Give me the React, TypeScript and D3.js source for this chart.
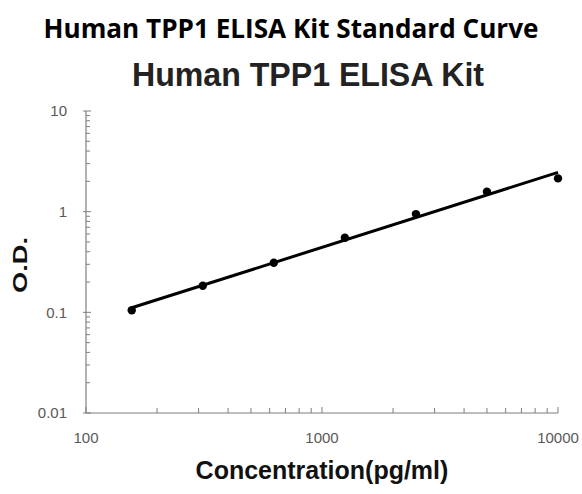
import React from "react";
import * as d3 from "d3";

// standard curve readings
const concentrations = [156.25, 312.5, 625, 1250, 2500, 5000, 10000];
const odValues = [0.105, 0.184, 0.311, 0.55, 0.946, 1.577, 2.14];

const xTickValues = [100, 1000, 10000];
const yTickValues = [0.01, 0.1, 1, 10];
const xTickLabels = ["100", "1000", "10000"];
const yTickLabels = ["0.01", "0.1", "1", "10"];

const W = 582, H = 494;
const left = 86, right = 558, top = 111, bottom = 413;

function minorTicks(lo: number, hi: number) {
    const out: number[] = [];
    for (let p = lo; p < hi; p *= 10) {
        for (let k = 2; k <= 9; k++) out.push(p * k);
    }
    return out;
}

export default function App() {
    const x = d3.scaleLog().domain([100, 10000]).range([left, right]);
    const y = d3.scaleLog().domain([0.01, 10]).range([bottom, top]);

    // log-log linear fit of the standards
    const lx = concentrations.map(Math.log10);
    const ly = odValues.map(Math.log10);
    const mx = d3.mean(lx)!, my = d3.mean(ly)!;
    const slope = d3.sum(lx, (v, i) => (v - mx) * (ly[i] - my)) / d3.sum(lx, v => (v - mx) ** 2);
    const fit = (c: number) => Math.pow(10, my + slope * (Math.log10(c) - mx));
    const fitPts = [concentrations[0], concentrations[concentrations.length - 1]].map(c => [c, fit(c)] as [number, number]);

    const line = d3.line<[number, number]>().x(d => x(d[0])).y(d => y(d[1]));

    const axisColor = "#7f7f7f";
    const labelColor = "#595959";

    return (
        <svg width={W} height={H} style={{ position: "absolute", left: 0, top: 0, background: "#fff" }}>
            <text x={W / 2} y={38} textAnchor="middle" fontFamily="'Open Sans', sans-serif" fontWeight={700}
                fontSize={27} textLength={495} lengthAdjust="spacingAndGlyphs" fill="#000">
                Human TPP1 ELISA Kit Standard Curve
            </text>
            <text x={308} y={86} textAnchor="middle" fontFamily="'Liberation Sans', Arial, sans-serif" fontWeight={700}
                fontSize={34} textLength={352} lengthAdjust="spacingAndGlyphs" fill="#222">
                Human TPP1 ELISA Kit
            </text>

            {/* axes */}
            <line x1={left} x2={left} y1={top} y2={bottom} stroke={axisColor} strokeWidth={1.2} />
            <line x1={left} x2={right} y1={bottom} y2={bottom} stroke={axisColor} strokeWidth={1.2} />

            {minorTicks(0.01, 10).map(v => (
                <line key={"ym" + v} x1={left} x2={left + 4} y1={y(v)} y2={y(v)} stroke={axisColor} />
            ))}
            {yTickValues.map(v => (
                <line key={"yM" + v} x1={left - 3} x2={left + 5} y1={y(v)} y2={y(v)} stroke={axisColor} />
            ))}
            {minorTicks(100, 10000).map(v => (
                <line key={"xm" + v} x1={x(v)} x2={x(v)} y1={bottom} y2={bottom - 5} stroke={axisColor} />
            ))}
            {xTickValues.map(v => (
                <line key={"xM" + v} x1={x(v)} x2={x(v)} y1={bottom} y2={bottom - 6} stroke={axisColor} />
            ))}

            {yTickValues.map((v, i) => (
                <text key={"yl" + v} x={67} y={y(v)} dy="0.35em" textAnchor="end"
                    fontFamily="'Liberation Sans', Arial, sans-serif" fontSize={15} fill={labelColor}>
                    {yTickLabels[i]}
                </text>
            ))}
            {xTickValues.map((v, i) => (
                <text key={"xl" + v} x={x(v)} y={443} textAnchor="middle"
                    fontFamily="'Liberation Sans', Arial, sans-serif" fontSize={15} fill={labelColor}>
                    {xTickLabels[i]}
                </text>
            ))}

            <text x={322} y={479} textAnchor="middle" fontFamily="'Liberation Sans', Arial, sans-serif"
                fontWeight={700} fontSize={25} fill="#111">
                Concentration(pg/ml)
            </text>
            <text transform={`translate(27, 265) rotate(-90)`} textAnchor="middle"
                fontFamily="'Liberation Sans', Arial, sans-serif" fontWeight={700} fontSize={20}
                textLength={56} lengthAdjust="spacingAndGlyphs" fill="#111">
                O.D.
            </text>

            <path d={line(fitPts) ?? ""} fill="none" stroke="#000" strokeWidth={3} />
            {concentrations.map((c, i) => (
                <circle key={c} cx={x(c)} cy={y(odValues[i])} r={4.2} fill="#000" />
            ))}
        </svg>
    );
}
